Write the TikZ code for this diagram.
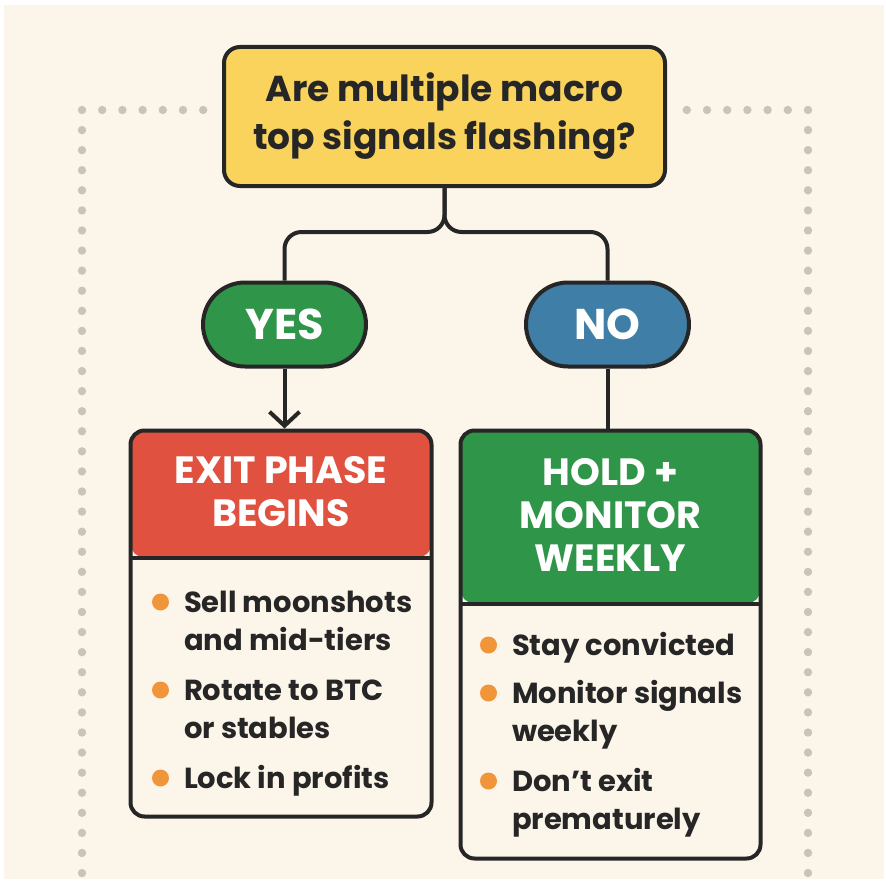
\documentclass[tikz,border=0pt]{standalone}
\usepackage{fontspec}
\setmainfont{Poppins}
\usetikzlibrary{arrows.meta,positioning}
\definecolor{paper}{HTML}{FCF5EA}
\definecolor{ink}{HTML}{262626}
\definecolor{qyellow}{HTML}{F9D35C}
\definecolor{yesgreen}{HTML}{2F9548}
\definecolor{noblue}{HTML}{3F7EA6}
\definecolor{exitred}{HTML}{E0523F}
\definecolor{bulletc}{HTML}{F1953A}
\definecolor{dotc}{HTML}{C9C4B9}
\newcommand\twoline[1]{\begin{tabular}[t]{@{}l@{}}#1\end{tabular}}

\begin{document}
\begin{tikzpicture}[x=1pt,y=-1pt,line width=4pt,on grid,
  >={Straight Barb[length=14pt,width=30pt]},
  question/.style={draw=ink,fill=qyellow,rounded corners=16pt,minimum width=441pt,minimum height=139pt,
    align=center,text=ink,font=\fontsize{36}{48}\selectfont\bfseries},
  pill/.style={draw=ink,rounded corners=42pt,minimum width=163pt,minimum height=84pt,
    text=white,font=\fontsize{43}{43}\selectfont\bfseries},
  box/.style={draw=ink,fill=paper,rounded corners=14pt,inner sep=0pt},
  head/.style 2 args={path picture={
    \fill[#1] (path picture bounding box.north west) rectangle ([yshift=-#2]path picture bounding box.north east);
    \draw[ink,line width=4pt] ([yshift=-#2]path picture bounding box.north west) -- ([yshift=-#2]path picture bounding box.north east);}},
  headtext/.style={align=center,text=white,inner sep=0pt,font=\fontsize{38}{43}\selectfont\bfseries},
  item/.style={anchor=base west,inner sep=0pt,text=ink,font=\fontsize{29}{38}\selectfont\bfseries}]

  \useasboundingbox (0,0) rectangle (886,883);
  \fill[white] (0,0) rectangle (886,883);
  \fill[paper] (4,5) rectangle (884,879);

  \foreach \i in {0,...,38}
    \fill[dotc] (82,{110+20.08*\i}) circle (4.2pt) (808,{110+20.08*\i}) circle (4.2pt);
  \foreach \i in {1,...,6}
    \fill[dotc] ({82+20.2*\i},110) circle (4.2pt) ({808-20.2*\i},110) circle (4.2pt);

  \node[question] (q) at (444.5,116.5) {Are multiple macro\\top signals flashing?};
  \node[pill,fill=yesgreen] (yes) [below left=208pt and 160pt of q] {YES};
  \node[pill,fill=noblue]   (no)  [below right=208pt and 163pt of q] {NO};
  \node[box,head={exitred}{127pt},minimum width=301pt,minimum height=386pt] (exit)
    [below left=299pt and 3.5pt of yes] {};
  \node[box,head={yesgreen}{173pt},minimum width=300pt,minimum height=428pt] (hold)
    [below right=320pt and 3pt of no] {};

  \coordinate (split) at (444.5,232);
  \draw[ink,rounded corners=17pt] (q) -- (split) -| (yes);
  \draw[ink,rounded corners=17pt] (q) -- (split) -| (no);
  \draw[ink,->] (yes) -- (yes |- exit.north);
  \draw[ink] (no) -- (no |- hold.north);

  \node[headtext] (exitt) at ([yshift=-63.5pt]exit.north) {EXIT PHASE\\BEGINS};
  \node[headtext] (holdt) at ([yshift=-86.5pt]hold.north) {HOLD +\\MONITOR\\WEEKLY};

  \foreach \y/\txt [count=\i] in {612/{Sell moonshots\\and mid-tiers},700/{Rotate to BTC\\or stables},788/{Lock in profits}}{
    \fill[bulletc] (160.5,\y-10) circle (8.5pt);
    \node[item] (e\i) at (182,\y) {\twoline{\txt}};
  }
  \foreach \y/\txt [count=\i] in {655/{Stay convicted},703/{Monitor signals\\weekly},791/{Don’t exit\\prematurely}}{
    \fill[bulletc] (488.5,\y-10) circle (8.5pt);
    \node[item] (h\i) at (510,\y) {\twoline{\txt}};
  }
\end{tikzpicture}
\end{document}
